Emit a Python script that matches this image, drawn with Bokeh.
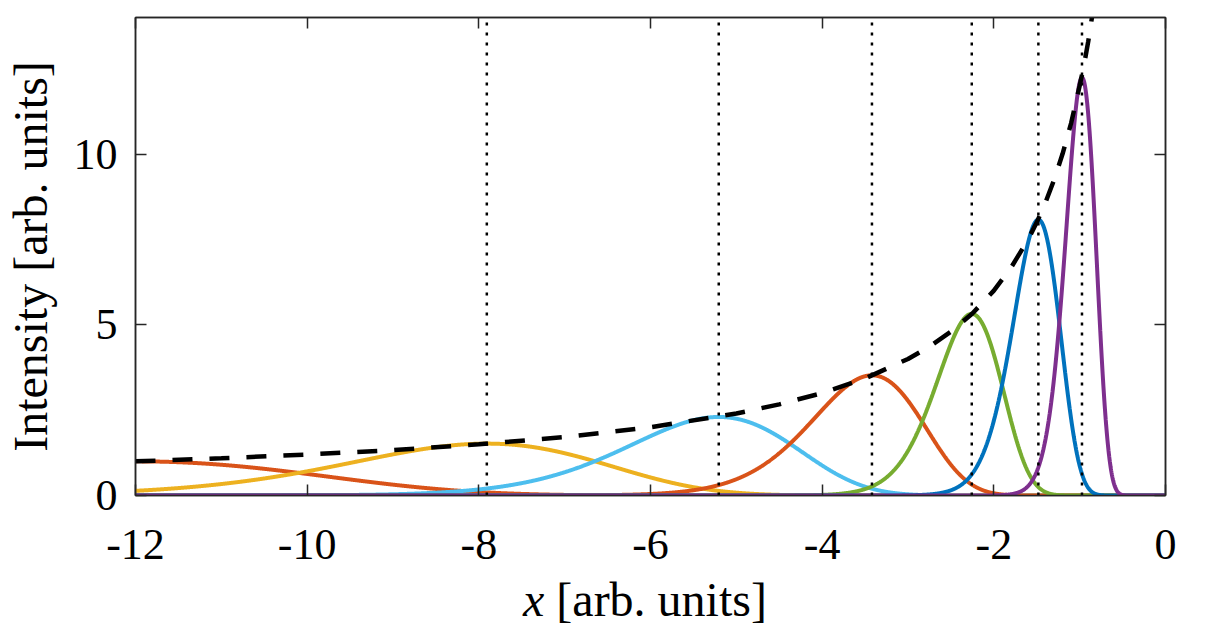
import numpy as np
from bokeh.plotting import figure
from bokeh.layouts import column
from bokeh.models import LinearAxis, FixedTicker, Range1d, Div, CustomJSTickFormatter
from bokeh.embed import file_html
from bokeh.resources import INLINE

# peaks: centre, height, width (in ln|x|)
peak_x = [-12.0, -7.907, -5.205, -3.42, -2.257, -1.481, -0.973]
peak_y = [1.0, 1.52, 2.30, 3.52, 5.32, 8.08, 12.24]
peak_w = [0.19, 0.19, 0.19, 0.19, 0.17, 0.186, 0.181]
peak_colors = ["#D95319", "#EDB120", "#4DBEEE", "#D95319", "#77AC30", "#0072BD", "#7E2F8E"]

# dotted marker lines
marker_x = [-7.907, -5.205, -3.42, -2.257, -1.481, -0.973]

# dashed envelope
env_x = [-12, -11, -10, -9, -8, -7, -6, -5, -4.5, -4, -3.5, -3, -2.75, -2.5, -2.25,
         -2, -1.8, -1.6, -1.5, -1.4, -1.3, -1.2, -1.1, -1.0, -0.95, -0.9, -0.857]
env_y = [1.0, 1.09, 1.2, 1.33, 1.5, 1.71, 2.0, 2.4, 2.67, 3.0, 3.43, 4.0, 4.36, 4.8, 5.33,
         6.0, 6.67, 7.5, 8.0, 8.57, 9.23, 10.0, 10.9, 12.0, 12.6, 13.3, 14.0]

x_ticks = [-12, -10, -8, -6, -4, -2, 0]
y_ticks = [0, 5, 10]

FONT = "Liberation Serif"
AXIS_COLOR = "#262626"

p = figure(frame_width=1030, frame_height=478, x_range=Range1d(-12, 0), y_range=Range1d(0, 14),
           output_backend="svg", toolbar_location=None,
           min_border_left=130, min_border_right=37, min_border_top=17, min_border_bottom=85,
           y_axis_label="Intensity [arb. units]")
p.grid.visible = False
p.outline_line_color = AXIS_COLOR
p.outline_line_width = 1.5


def style_axis(ax, ticks, labels=True):
    ax.ticker = FixedTicker(ticks=ticks)
    ax.formatter = CustomJSTickFormatter(code="return String(tick);")
    ax.axis_line_color = AXIS_COLOR
    ax.axis_line_width = 1.5
    ax.major_tick_line_color = AXIS_COLOR
    ax.major_tick_line_width = 1.5
    ax.major_tick_in = 11
    ax.major_tick_out = 0
    ax.minor_tick_line_color = None
    ax.major_label_text_font = FONT
    ax.major_label_text_font_size = "44px"
    ax.major_label_text_color = "black"
    ax.major_label_standoff = 18
    if not labels:
        ax.major_label_text_alpha = 0
        ax.major_label_text_font_size = "1px"


style_axis(p.xaxis[0], x_ticks)
p.xaxis[0].major_label_standoff = 34
style_axis(p.yaxis[0], y_ticks)
p.yaxis[0].axis_label_text_font = FONT
p.yaxis[0].axis_label_text_font_size = "48px"
p.yaxis[0].axis_label_text_font_style = "normal"
p.yaxis[0].axis_label_text_color = "black"
p.yaxis[0].axis_label_standoff = 14

top = LinearAxis()
style_axis(top, x_ticks, labels=False)
p.add_layout(top, "above")
right = LinearAxis()
style_axis(right, y_ticks, labels=False)
p.add_layout(right, "right")

xs = np.linspace(-12, 0, 3000)
for cx, cy, w, col in zip(peak_x, peak_y, peak_w, peak_colors):
    safe = np.where(xs < 0, xs, -1e-9)
    ys = cy * np.exp(-np.log(safe / cx) ** 2 / (2 * w ** 2))
    p.line(xs, ys, line_color=col, line_width=4)

p.segment(x0=marker_x, y0=[0] * len(marker_x), x1=marker_x, y1=[14] * len(marker_x),
          line_color="black", line_width=2.5, line_dash="3 7")
p.line(env_x, env_y, line_color="black", line_width=4.5, line_dash="20 17")

# x label sits below the figure: italic x + upright units
xlabel = Div(text='<div style="font-family: \'Liberation Serif\'; font-size: 48px; '
                  'width: 1030px; line-height: 40px; text-align: center; color: black; '
                  'white-space: nowrap;"><i>x</i> [arb. units]</div>',
             width=1030, height=44, margin=(0, 0, 0, 130))

layout = column(p, xlabel, spacing=0)
open("out.html", "w").write(file_html(layout, INLINE))
